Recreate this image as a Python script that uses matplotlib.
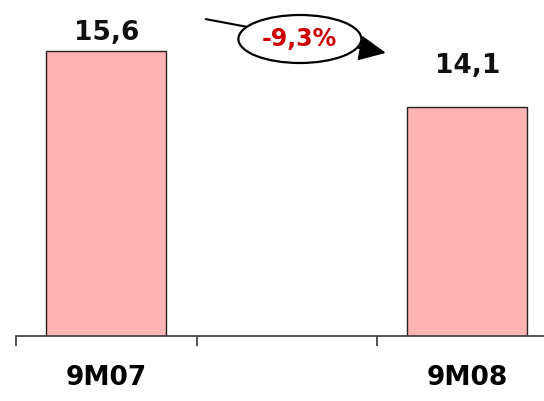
import matplotlib
matplotlib.use("Agg")
import matplotlib.pyplot as plt
from matplotlib.patches import Ellipse

# data
categories = ["9M07", "", "9M08"]
values = [15.6, None, 14.1]
value_labels = ["15,6", "", "14,1"]
change_label = "-9,3%"
label_offsets = [8, 0, 24.5]  # pt above bar top

plt.rcParams['font.family'] = ['DejaVu Sans']

fig = plt.figure(figsize=(5.44, 4.01), dpi=100)
ax = fig.add_axes([16 / 544, 65 / 401, 1 - 16 / 544, 336 / 401])

xs = [i for i, v in enumerate(values) if v is not None]
hs = [v for v in values if v is not None]
ax.bar(xs, hs, width=0.665, color="#ffb3b3", edgecolor="#222222", linewidth=1.0)

for x, v, lab, off in zip(range(len(values)), values, value_labels, label_offsets):
    if v is None:
        continue
    ax.annotate(lab, (x, v), xytext=(0, off), textcoords="offset points",
                ha="center", va="baseline", fontsize=19, fontweight="bold",
                color="#111111")

# spines / ticks
for s in ["left", "right", "top"]:
    ax.spines[s].set_visible(False)
ax.spines["bottom"].set_color("#444444")
ax.spines["bottom"].set_linewidth(1.3)
ax.set_yticks([])
ax.set_xticks([-0.5, 0.5, 1.5])
ax.set_xticklabels([])
ax.tick_params(axis="x", which="major", direction="out", length=7.5,
               width=1.3, color="#444444")
ax.set_xticks([0, 2], minor=True)
ax.set_xticklabels([categories[0], categories[2]], minor=True,
                   fontsize=19, fontweight="bold")
ax.tick_params(axis="x", which="minor", length=0, pad=21)

# limits after ticks (set_xticks may widen them)
ax.set_xlim(-0.5, 2.424)
ax.set_ylim(8.0, 16.96)

# change arrow with ellipse
ax.annotate("", xy=(1.548, 15.55), xytext=(0.551, 16.45),
            arrowprops=dict(arrowstyle="-|>,head_length=1.66,head_width=0.79",
                            mutation_scale=10, color="black", lw=1.5,
                            shrinkA=0, shrinkB=0),
            annotation_clip=False)
ell = Ellipse((1.072, 15.92), 0.681, 1.28, facecolor="white",
              edgecolor="black", linewidth=1.6, clip_on=False, zorder=5)
ax.add_patch(ell)
ax.text(1.072, 15.92, change_label, ha="center", va="center", fontsize=17,
        fontweight="bold", color="#cc0000", zorder=6)

fig.savefig("out.png", dpi=100)
